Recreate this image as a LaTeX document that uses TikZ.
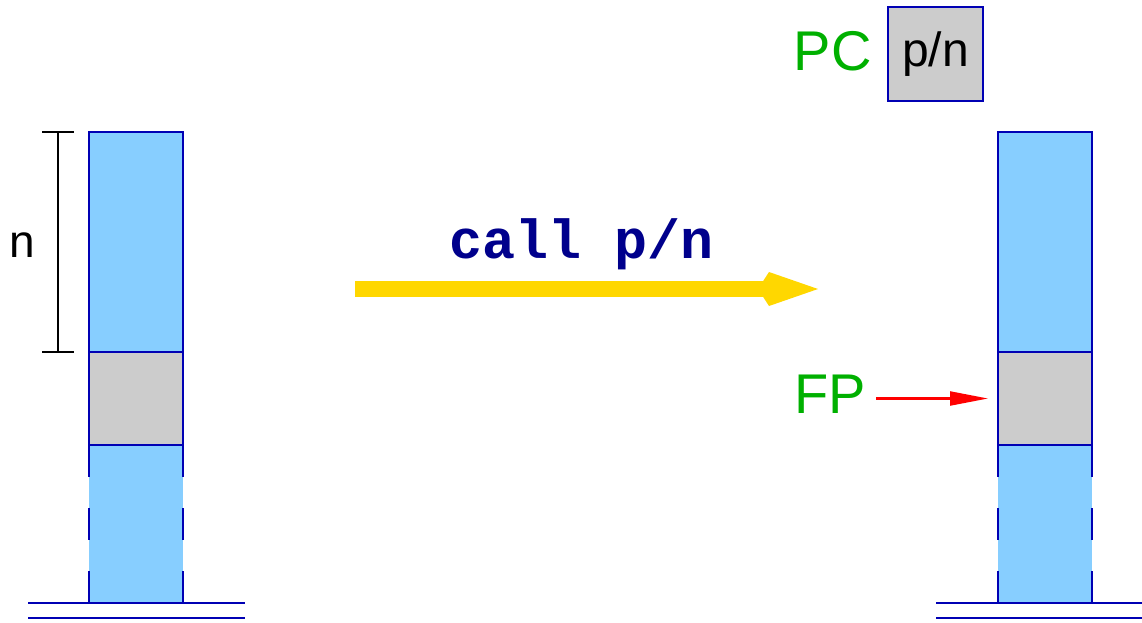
\documentclass[tikz,border=0pt]{standalone}
\usepackage{fontspec}
\setmainfont{Liberation Sans}
\setmonofont{Liberation Mono}
\usetikzlibrary{positioning,arrows.meta}

\definecolor{stackblue}{RGB}{135,206,255}
\definecolor{edgeblue}{RGB}{0,0,180}
\definecolor{framegray}{RGB}{204,204,204}
\definecolor{labelgreen}{RGB}{0,176,0}
\definecolor{callnavy}{RGB}{0,0,140}
\definecolor{callgold}{RGB}{255,215,0}

\tikzset{
  cell/.style={draw=edgeblue, line width=1.4pt, fill=stackblue, minimum width=47pt, inner sep=0pt, outer sep=0pt},
  frame/.style={cell, fill=framegray},
  rest/.style={fill=stackblue, minimum width=47pt, minimum height=79pt, inner sep=0pt, outer sep=0pt},
  restside/.style={draw=edgeblue, line width=1.4pt, dash pattern=on 16pt off 15.5pt},
  ground/.style={draw=edgeblue, line width=1.4pt},
  regname/.style={text=labelgreen, font=\fontsize{28}{34}\selectfont, inner sep=0pt},
  plain/.style={font=\fontsize{23}{28}\selectfont, inner sep=0pt},
  callarrow/.style={draw=callgold, line width=8pt, -{Kite[length=30pt,width=17pt,inset=5.5pt]}},
  fparrow/.style={draw=red, line width=1.1pt, -{Triangle[length=19pt,width=7pt]}}
}

\begin{document}
\begin{tikzpicture}[x=0.5pt,y=0.5pt,yscale=-1,xscale=1]
\useasboundingbox (0,0) rectangle (1142,622);

%Stack before the call
\node[cell, minimum height=110pt] (ltop) at (136,242) {};
\node[frame, minimum height=46.5pt, below=0pt of ltop] (lframe) {};
\node[rest, below=0pt of lframe] (lrest) {};
\draw[ground] (lrest.north west) -- (lrest.north east);
\draw[restside] (lrest.north west) -- (lrest.south west);
\draw[restside] (lrest.north east) -- (lrest.south east);
\draw[ground] (28,603) -- (245,603);
\draw[ground] (28,618) -- (245,618);

%Size of the arguments
\draw[line width=1.1pt] (58,132) -- (58,352);
\draw[line width=1.1pt] (42,132) -- (74,132);
\draw[line width=1.1pt] (42,352) -- (74,352);
% Text Node
\node[plain] (nlabel) at (22,245) {n};

%Call
\coordinate (callfrom) at (355,289);
\coordinate (callto) at (818,289);
\draw[callarrow] (callfrom) -- (callto);
% Text Node
\node[anchor=base, inner sep=0pt, text=callnavy, font=\fontsize{27.5}{33}\selectfont\ttfamily\bfseries] (calltext) at (582,258) {call p/n};

%Stack after the call
\node[cell, minimum height=110pt] (rtop) at (1045,242) {};
\node[frame, minimum height=46.5pt, below=0pt of rtop] (rframe) {};
\node[rest, below=0pt of rframe] (rrest) {};
\draw[ground] (rrest.north west) -- (rrest.north east);
\draw[restside] (rrest.north west) -- (rrest.south west);
\draw[restside] (rrest.north east) -- (rrest.south east);
\draw[ground] (936,603) -- (1142,603);
\draw[ground] (936,618) -- (1142,618);

%Registers
\node[frame, minimum width=47.5pt, minimum height=47pt, font=\fontsize{24}{29}\selectfont] (pcbox) at (935.5,54) {p/n};
\node[regname, left=8pt of pcbox, yshift=1.5pt] (pc) {PC};
\node[regname] (fp) at (830,394) {FP};
\draw[fparrow, shorten <=5pt, shorten >=5pt] (fp.east |- rframe.west) -- (rframe.west);

\end{tikzpicture}
\end{document}
